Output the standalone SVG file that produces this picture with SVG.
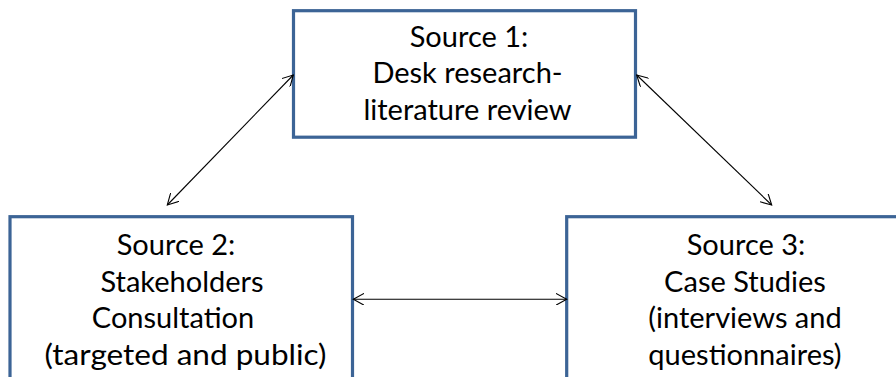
<svg xmlns="http://www.w3.org/2000/svg" width="896" height="377" viewBox="0 0 896 377">
  <style>
    .box { fill: #ffffff; stroke: #3C6496; stroke-width: 3.2; }
    .lbl { font-family: Lato, "Liberation Sans", sans-serif; font-size: 29px; fill: #000000; text-anchor: middle; }
    .conn { stroke: #000000; stroke-width: 1.1; fill: none; marker-start: url(#arr); marker-end: url(#arr); }
  </style>
  <defs>
    <marker id="arr" viewBox="0 0 12 12" refX="11" refY="6" markerWidth="12" markerHeight="12" markerUnits="userSpaceOnUse" orient="auto-start-reverse">
      <path d="M0,0 L11,6 L0,12" fill="none" stroke="#000000" stroke-width="1.1"/>
    </marker>
  </defs>
  <rect width="896" height="377" fill="#ffffff"/>
  <g id="source1">
    <rect class="box" x="293.5" y="10.7" width="342" height="126.5"/>
    <text class="lbl" x="469" y="46.7">Source 1:</text>
    <text class="lbl" x="467.5" y="83.3">Desk research-</text>
    <text class="lbl" x="467.5" y="120">literature review</text>
  </g>
  <g id="source2">
    <rect class="box" x="10" y="216.7" width="342.5" height="200"/>
    <text class="lbl" x="176" y="255">Source 2:</text>
    <text class="lbl" x="182" y="291.7">Stakeholders</text>
    <text class="lbl" x="173" y="328.3">Consultation</text>
    <text class="lbl" x="185.5" y="365" textLength="282" lengthAdjust="spacingAndGlyphs">(targeted and public)</text>
  </g>
  <g id="source3">
    <rect class="box" x="566.7" y="216.7" width="360" height="200"/>
    <text class="lbl" x="746" y="255">Source 3:</text>
    <text class="lbl" x="745" y="291.7">Case Studies</text>
    <text class="lbl" x="745" y="328.3">(interviews and</text>
    <text class="lbl" x="745" y="365">questionnaires)</text>
  </g>
  <g id="connectors">
    <line class="conn" x1="167.3" y1="205" x2="293.3" y2="75"/>
    <line class="conn" x1="636.7" y1="75" x2="771.7" y2="205"/>
    <line class="conn" x1="353.3" y1="299.3" x2="566.7" y2="299.3"/>
  </g>
</svg>
